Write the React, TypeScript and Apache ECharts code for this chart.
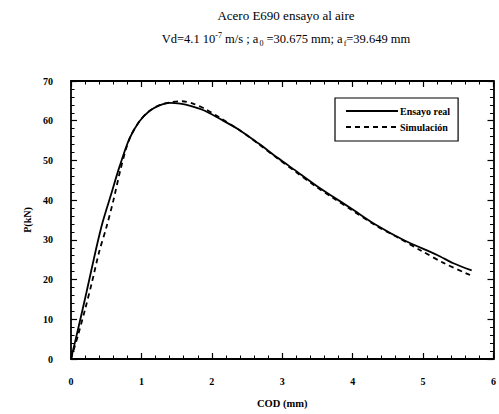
import React, { useEffect, useRef } from "react";
import * as echarts from "echarts";

const titleText = "Acero E690 ensayo al aire";
const seriesNames = ["Ensayo real", "Simulación"];
const xTicks = [0, 1, 2, 3, 4, 5, 6];
const yTicks = [0, 10, 20, 30, 40, 50, 60, 70];

const ensayoReal: [number, number][] = [
  [0, 0], [0.1, 7.5], [0.22, 16.8], [0.36, 28], [0.45, 34.5],
  [0.57, 41.5], [0.69, 48.5], [0.83, 55.5], [0.97, 59.8], [1.11, 62.4], [1.25, 63.8],
  [1.4, 64.5], [1.55, 64.3], [1.72, 63.6], [1.9, 62.5], [2.1, 60.6], [2.38, 57.8],
  [2.66, 54.3], [2.94, 50.6], [3.2, 47.3], [3.48, 43.7], [3.7, 41.1], [3.98, 37.9],
  [4.31, 34.0], [4.73, 29.9], [5.2, 26.2], [5.43, 24.1], [5.69, 22.3],
];

const simulacion: [number, number][] = [
  [0, 0], [0.1, 6], [0.2, 12.5], [0.3, 19.5], [0.4, 27], [0.5, 33],
  [0.6, 39.8], [0.7, 47.5], [0.78, 52.8], [0.85, 56.2], [0.97, 59.8], [1.1, 62.3],
  [1.25, 63.9], [1.4, 64.6], [1.58, 64.9], [1.75, 64.2], [1.91, 62.9], [2.1, 60.9],
  [2.38, 57.8], [2.66, 54.2], [2.94, 50.4], [3.2, 47.0], [3.48, 43.4], [3.7, 40.8],
  [3.98, 37.6], [4.31, 33.8], [4.63, 30.7], [4.96, 27.4], [5.29, 24.2], [5.62, 21.5],
  [5.7, 20.9],
];

const FONT = "Liberation Serif";

export default function App() {
  const ref = useRef<HTMLDivElement>(null);
  useEffect(() => {
    if (!ref.current) return;
    const chart = echarts.init(ref.current, null, { renderer: "svg" });
    const tickStyle = { show: true, inside: true, length: 6, lineStyle: { color: "#000", width: 1.2 } };
    const minorTick = { show: true, splitNumber: 5, length: 3.5, lineStyle: { color: "#000", width: 1 } };
    const axisLine = { show: true, onZero: false, lineStyle: { color: "#000", width: 1.8 } };
    const labelStyle = { fontFamily: FONT, fontWeight: "bold" as const, fontSize: 10, color: "#000" };
    chart.setOption({
      animation: false,
      backgroundColor: "#fff",
      title: {
        text: titleText,
        subtext: "Vd=4.1 10{sup|-7} m/s ; a{sub|0} =30.675 mm; a{sub|f}=39.649 mm",
        left: 281,
        top: 4,
        textAlign: "center",
        itemGap: 9,
        textStyle: { fontFamily: FONT, fontSize: 13, fontWeight: "normal", color: "#000" },
        subtextStyle: {
          fontFamily: FONT,
          fontSize: 12.5,
          color: "#000",
          rich: {
            sup: { fontFamily: FONT, fontSize: 8, color: "#000", verticalAlign: "top", padding: [0, 0, 6, 0] },
            sub: { fontFamily: FONT, fontSize: 8, color: "#000", verticalAlign: "bottom", padding: [8, 0, 0, 1] },
          },
        },
      },
      legend: {
        left: 335,
        top: 98,
        orient: "vertical",
        data: seriesNames,
        itemWidth: 52,
        itemHeight: 10,
        itemGap: 6,
        padding: [8, 8, 9, 10],
        borderColor: "#000",
        borderWidth: 1.2,
        backgroundColor: "#fff",
        itemStyle: { opacity: 0 },
        textStyle: { fontFamily: FONT, fontWeight: "bold", fontSize: 10, color: "#000", padding: [0, 0, 0, -3] },
      },
      grid: { left: 71, right: 2, top: 81, bottom: 47, containLabel: false },
      xAxis: [
        {
          type: "value", min: 0, max: 6, interval: 1, position: "bottom",
          name: "COD (mm)", nameLocation: "middle", nameGap: 39,
          nameTextStyle: { fontFamily: FONT, fontWeight: "bold", fontSize: 10.5, color: "#000" },
          axisLine, axisTick: tickStyle, minorTick,
          axisLabel: { ...labelStyle, margin: 17 },
          splitLine: { show: false },
        },
        {
          type: "value", min: 0, max: 6, interval: 1, position: "top",
          axisLine, axisTick: tickStyle, minorTick,
          axisLabel: { show: false }, splitLine: { show: false },
        },
      ],
      yAxis: [
        {
          type: "value", min: 0, max: 70, interval: 10, position: "left",
          name: "P(kN)", nameLocation: "middle", nameGap: 38, nameRotate: 90,
          nameTextStyle: { fontFamily: FONT, fontWeight: "bold", fontSize: 10, color: "#000" },
          axisLine, axisTick: tickStyle, minorTick,
          axisLabel: { ...labelStyle, margin: 18 },
          splitLine: { show: false },
        },
        {
          type: "value", min: 0, max: 70, interval: 10, position: "right",
          axisLine, axisTick: tickStyle, minorTick,
          axisLabel: { show: false }, splitLine: { show: false },
        },
      ],
      series: [
        {
          name: seriesNames[0], type: "line", data: ensayoReal, symbol: "none", smooth: 0.3,
          xAxisIndex: 0, yAxisIndex: 0,
          lineStyle: { color: "#000", width: 1.8 }, itemStyle: { color: "#000" },
        },
        {
          name: seriesNames[1], type: "line", data: simulacion, symbol: "none", smooth: 0.3,
          xAxisIndex: 0, yAxisIndex: 0,
          lineStyle: { color: "#000", width: 1.8, type: [5, 4] }, itemStyle: { color: "#000" },
        },
      ],
    });
    return () => chart.dispose();
  }, []);
  return <div ref={ref} style={{ width: 499, height: 414, position: "absolute", left: 0, top: 0 }} />;
}
